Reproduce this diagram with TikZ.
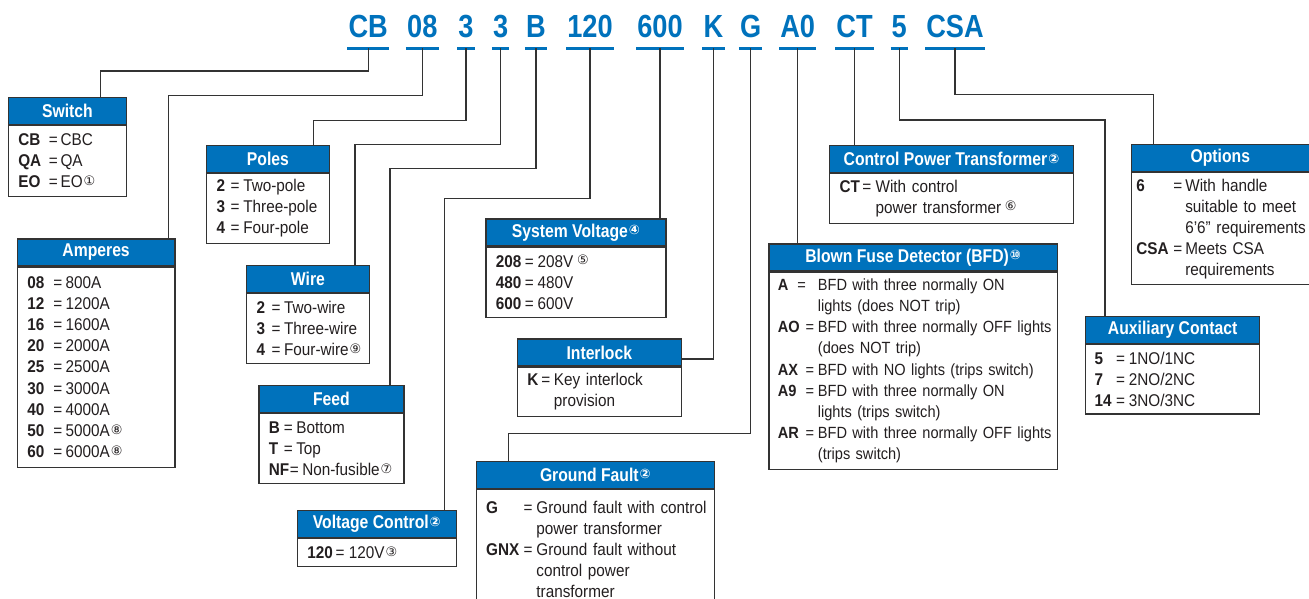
\documentclass[tikz,border=0pt]{standalone}
\usepackage{fontspec}
\setmainfont{Liberation Sans}[FakeStretch=0.9]
\newfontfamily\headfont{Liberation Sans}[FakeStretch=0.85]
\newfontfamily\codefont{Liberation Sans}[FakeStretch=0.85]
\newfontfamily\symfont{DejaVu Sans}
\usetikzlibrary{positioning, calc}
\definecolor{EBlue}{RGB}{0,114,188}
\definecolor{EDark}{RGB}{35,31,32}
\definecolor{ELine}{RGB}{51,51,51}

% key = value rows
\newlength\keyw
\newlength\eqw
\newcommand\setkw[2]{\setlength\keyw{#1}\setlength\eqw{#2}}
\newcommand\kv[2]{\makebox[\keyw][l]{\bfseries#1}\makebox[\eqw][l]{=}\mbox{#2}}
\newcommand\kc[1]{\hspace*{\dimexpr\keyw+\eqw\relax}\mbox{#1}}
\newcommand\fnote[1]{\hspace{1pt}\raisebox{2.5pt}{\symfont\fontsize{13}{13}\selectfont#1}}

\begin{document}
\begin{tikzpicture}[x=1pt, y=-1pt,
    head/.style={rectangle, draw=ELine, line width=1.2pt, fill=EBlue,
                 text=white, minimum height=27pt, inner sep=0pt,
                 font=\headfont\bfseries\fontsize{18.5}{20}\selectfont,
                 anchor=north west},
    body/.style={rectangle, draw=ELine, line width=1.2pt, text=EDark,
                 font=\fontsize{17}{21}\selectfont, align=left,
                 inner xsep=10pt, inner ysep=0pt, anchor=north west},
    code/.style={text=EBlue, font=\codefont\bfseries\fontsize{32}{32}\selectfont,
                 anchor=base, inner xsep=1pt, inner ysep=10.6pt, text depth=0pt},
    uline/.style={EBlue, line width=3pt},
    link/.style={ELine, line width=1.3pt}
  ]
  \useasboundingbox (0,0) rectangle (1309,599);
  \clip (0,0) rectangle (1309,599);
  \fill[white] (0,0) rectangle (1309,599);

  % Catalog number
  \node[code] (cb) at (368.2,37.5) {CB};
  \node[code] (am) at (422.3,37.5) {08};
  \node[code] (po) at (465.9,37.5) {3};
  \node[code] (wi) at (500.7,37.5) {3};
  \node[code] (fe) at (536.0,37.5) {B};
  \node[code] (vc) at (590.0,37.5) {120};
  \node[code] (sv) at (660.0,37.5) {600};
  \node[code] (il) at (713.5,37.5) {K};
  \node[code] (gf) at (750.6,37.5) {G};
  \node[code] (bf) at (797.7,37.5) {A0};
  \node[code] (ct) at (854.5,37.5) {CT};
  \node[code] (ax) at (899.3,37.5) {5};
  \node[code] (op) at (955.0,37.5) {CSA};

  % Switch
  \node[head, minimum width=118.3pt] (swh) at (7.7,96.7) {Switch};
  \node[body, text width=98.3pt, minimum height=70.7pt] (swb) at (swh.south west)
       {\setkw{30.6pt}{11.7pt}\kv{CB}{CBC}\\\kv{QA}{QA}\\\kv{EO}{EO\fnote{①}}};

  % Amperes
  \node[head, minimum width=157.6pt] (amh) at (16.7,238.3) {Amperes};
  \node[body, text width=137.6pt, minimum height=200pt,
        font=\fontsize{17}{21.2}\selectfont] (amb) at (amh.south west)
       {\setkw{26pt}{12.3pt}\kv{08}{800A}\\\kv{12}{1200A}\\\kv{16}{1600A}\\
        \kv{20}{2000A}\\\kv{25}{2500A}\\\kv{30}{3000A}\\\kv{40}{4000A}\\
        \kv{50}{5000A\fnote{⑧}}\\\kv{60}{6000A\fnote{⑧}}};

  % Poles
  \node[head, minimum width=122.7pt] (poh) at (206,145) {Poles};
  \node[body, text width=102.7pt, minimum height=69.3pt] (pob) at (poh.south west)
       {\setkw{14pt}{12.7pt}\kv{2}{Two-pole}\\\kv{3}{Three-pole}\\\kv{4}{Four-pole}};

  % Wire
  \node[head, minimum width=122.7pt] (wih) at (246,265) {Wire};
  \node[body, text width=102.7pt, minimum height=70pt] (wib) at (wih.south west)
       {\setkw{15pt}{12.5pt}\kv{2}{Two-wire}\\\kv{3}{Three-wire}\\\kv{4}{Four-wire\fnote{⑨}}};

  % Feed
  \node[head, minimum width=145pt] (feh) at (258.3,385) {Feed};
  \node[body, text width=125pt, minimum height=70pt] (feb) at (feh.south west)
       {\setkw{15pt}{12.4pt}\kv{B}{Bottom}\\\kv{T}{Top}\\
        \setkw{21pt}{12.4pt}\kv{NF}{Non-fusible\fnote{⑦}}};

  % Voltage Control
  \node[head, minimum width=159pt] (vch) at (296.7,510) {Voltage Control\fnote{②}};
  \node[body, text width=139pt, minimum height=28pt] (vcb) at (vch.south west)
       {\setkw{28.3pt}{13.3pt}\kv{120}{120V\fnote{③}}};

  % System Voltage
  \node[head, minimum width=180pt] (svh) at (485.3,218.3) {System Voltage\fnote{④}};
  \node[body, text width=160pt, minimum height=70.7pt] (svb) at (svh.south west)
       {\setkw{29pt}{12.7pt}\kv{208}{208V\,\fnote{⑤}}\\\kv{480}{480V}\\\kv{600}{600V}};

  % Interlock
  \node[head, minimum width=164pt] (ilh) at (516.7,338.3) {Interlock};
  \node[body, text width=144pt, minimum height=49pt] (ilb) at (ilh.south west)
       {\setkw{14pt}{12.6pt}\kv{K}{Key interlock}\\\kc{provision}};

  % Ground Fault
  \node[head, minimum width=238.5pt] (gfh) at (475.5,460.7) {Ground Fault\fnote{②}};
  \node[body, text width=218.5pt, minimum height=120pt] (gfb) at (gfh.south west)
       {\setkw{37.6pt}{12.7pt}\kv{G}{Ground fault with control}\\\kc{power transformer}\\
        \kv{GNX}{Ground fault without}\\\kc{control power}\\\kc{transformer}\\[14pt]};

  % Blown Fuse Detector
  \node[head, minimum width=288.4pt] (bfh) at (768.3,243.3) {Blown Fuse Detector (BFD)\fnote{⑩}};
  \node[body, text width=270.4pt, inner xsep=9pt, minimum height=197.6pt,
        font=\fontsize{16.2}{21.2}\selectfont] (bfb) at (bfh.south west)
       {\setkw{19.4pt}{20.6pt}\kv{A}{BFD with three normally ON}\\\kc{lights (does NOT trip)}\\
        \setkw{27.7pt}{12.3pt}\kv{AO}{BFD with three normally OFF lights}\\\kc{(does NOT trip)}\\
        \kv{AX}{BFD with NO lights (trips switch)}\\
        \kv{A9}{BFD with three normally ON}\\\kc{lights (trips switch)}\\
        \kv{AR}{BFD with three normally OFF lights}\\\kc{(trips switch)}};

  % Control Power Transformer
  \node[head, minimum width=243.7pt] (cth) at (829,145) {Control Power Transformer\fnote{②}};
  \node[body, text width=223.7pt, minimum height=49.4pt] (ctb) at (cth.south west)
       {\setkw{22.7pt}{13.3pt}\kv{CT}{With control}\\\kc{power transformer\,\fnote{⑥}}};

  % Options
  \node[head, minimum width=182pt] (oph) at (1130.7,144) {\hspace*{-4pt}Options};
  \node[body, text width=172pt, inner xsep=5pt, minimum height=111.7pt] (opb) at (oph.south west)
       {\setkw{37pt}{12pt}\kv{6}{With handle}\\\kc{suitable to meet}\\\kc{6’6” requirements}\\
        \kv{CSA}{Meets CSA}\\\kc{requirements}};

  % Auxiliary Contact
  \node[head, minimum width=174pt] (axh) at (1085,315.7) {Auxiliary Contact};
  \node[body, text width=156pt, inner xsep=9pt, minimum height=69.4pt] (axb) at (axh.south west)
       {\setkw{21.5pt}{12.8pt}\kv{5}{1NO/1NC}\\\kv{7}{2NO/2NC}\\\kv{14}{3NO/3NC}};

  % Bend points
  \coordinate (swk) at (100.7,71);
  \coordinate (amk) at (168.3,95.7);
  \coordinate (pok) at (313.7,120.7);
  \coordinate (wik) at (355,144.3);
  \coordinate (fek) at (390,168.7);
  \coordinate (vck) at (444.3,198.3);
  \coordinate (ilk) at (680.7,359);
  \coordinate (gfk) at (508.5,433.3);
  \coordinate (axk) at (1105,120);
  \coordinate (opk) at (1153.3,94.3);

  % Underlines
  \draw[uline] (cb.south west) -- (cb.south east);
  \draw[uline] (am.south west) -- (am.south east);
  \draw[uline] (po.south west) -- (po.south east);
  \draw[uline] (wi.south west) -- (wi.south east);
  \draw[uline] (fe.south west) -- (fe.south east);
  \draw[uline] (vc.south west) -- (vc.south east);
  \draw[uline] (sv.south west) -- (sv.south east);
  \draw[uline] (il.south west) -- (il.south east);
  \draw[uline] (gf.south west) -- (gf.south east);
  \draw[uline] (bf.south west) -- (bf.south east);
  \draw[uline] (ct.south west) -- (ct.south east);
  \draw[uline] (ax.south west) -- (ax.south east);
  \draw[uline] (op.south west) -- (op.south east);

  % Connectors
  \draw[link] (cb.south) |- (swk) -- (swk |- swh.north);
  \draw[link] (am.south) |- (amk) -- (amk |- amh.north);
  \draw[link] (po.south) |- (pok) -- (pok |- poh.north);
  \draw[link] (wi.south) |- (wik) -- (wik |- wih.north);
  \draw[link] (fe.south) |- (fek) -- (fek |- feh.north);
  \draw[link] (vc.south) |- (vck) -- (vck |- vch.north);
  \draw[link] (sv.south) -- (sv.south |- svh.north);
  \draw[link] (il.south) |- (ilk);
  \draw[link] (gf.south) |- (gfk) -- (gfk |- gfh.north);
  \draw[link] (bf.south) -- (bf.south |- bfh.north);
  \draw[link] (ct.south) -- (ct.south |- cth.north);
  \draw[link] (ax.south) |- (axk) -- (axk |- axh.north);
  \draw[link] (op.south) |- (opk) -- (opk |- oph.north);
\end{tikzpicture}
\end{document}
